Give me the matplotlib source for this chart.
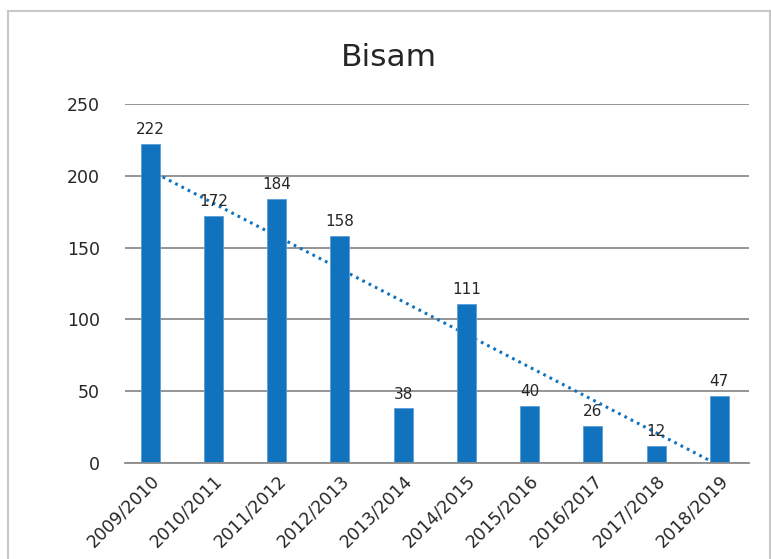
import numpy as np
import matplotlib
matplotlib.use("Agg")
import matplotlib.pyplot as plt
from matplotlib.patches import Rectangle

plt.rcParams["font.family"] = ["DejaVu Sans"]

# ---------------- Data ----------------
seasons = ["2009/2010", "2010/2011", "2011/2012", "2012/2013", "2013/2014",
           "2014/2015", "2015/2016", "2016/2017", "2017/2018", "2018/2019"]
counts = [222, 172, 184, 158, 38, 111, 40, 26, 12, 47]

BLUE = "#1172BE"
GRID = "#8C8C8C"
TEXT = "#262626"

fig = plt.figure(figsize=(7.71, 5.59), dpi=100)
ax = fig.add_axes([0.1621, 0.1717, 0.8093, 0.6422])

x = np.arange(len(seasons))

# linear trend, behind the bars
k, b = np.polyfit(x, counts, 1)
ax.plot(x, k * x + b, color=BLUE, lw=2.2, ls=(0, (0.9, 1.4)), zorder=1)

bars = ax.bar(x, counts, width=0.30, color=BLUE, edgecolor="#5A9FD8",
              linewidth=0.6, zorder=2)
for xi, v in zip(x, counts):
    ax.annotate(str(v), (xi, v), xytext=(0, 5), textcoords="offset points",
                ha="center", va="bottom", fontsize=11, color=TEXT, zorder=3)

ax.set_xlim(-0.40, 9.47)
ax.set_ylim(0, 250)
ax.set_yticks([0, 50, 100, 150, 200, 250])
ax.yaxis.grid(True, color=GRID, lw=1.3, zorder=0)
ax.set_axisbelow(True)
for s in ["top", "right", "left"]:
    ax.spines[s].set_visible(False)
ax.spines["bottom"].set_color(GRID)
ax.spines["bottom"].set_linewidth(1.3)
ax.tick_params(axis="both", length=0, labelsize=12.5, colors=TEXT)
ax.tick_params(axis="y", pad=18)
ax.set_xticks(x)
ax.set_xticklabels(seasons, rotation=45, ha="right", rotation_mode="anchor")
ax.tick_params(axis="x", pad=6)

fig.text(0.505, 0.898, "Bisam", ha="center", va="center", fontsize=22.5, color=TEXT)

# outer chart border
fig.patches.append(Rectangle((8 / 771, -0.05), 762 / 771, 1.05 - 11 / 559,
                             transform=fig.transFigure, fill=False,
                             edgecolor="#C8C8C8", lw=1.5))

fig.savefig("out.png", dpi=100)
